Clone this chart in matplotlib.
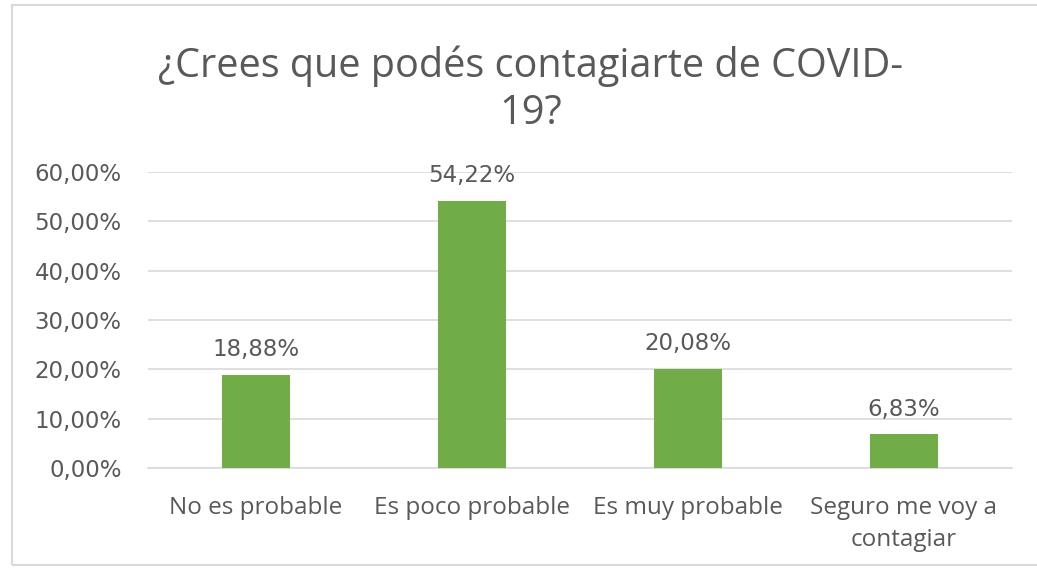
import matplotlib
matplotlib.use("Agg")
import matplotlib.pyplot as plt
from matplotlib.patches import Rectangle

categories = ["No es probable", "Es poco probable", "Es muy probable", "Seguro me voy a\ncontagiar"]
values = [18.88, 54.22, 20.08, 6.83]
labels = ["18,88%", "54,22%", "20,08%", "6,83%"]
yticks = [0, 10, 20, 30, 40, 50, 60]
yticklabels = ["0,00%", "10,00%", "20,00%", "30,00%", "40,00%", "50,00%", "60,00%"]
title = "¿Crees que podés contagiarte de COVID-\n19?"

plt.rcParams['font.family'] = ['Open Sans', 'DejaVu Sans']
gray = "#595959"

fig = plt.figure(figsize=(10.37, 5.70), dpi=100)
fig.patch.set_facecolor("white")
fig.patches.append(Rectangle((12/1037, 5/570), 1.0, 560/570, transform=fig.transFigure,
                             fill=False, edgecolor="#D9D9D9", linewidth=1.5))

ax = fig.add_axes([148/1037, 1-468/570, 864/1037, (468-172)/570])
x = list(range(len(categories)))
ax.bar(x, values, width=0.315, color="#70AD47", zorder=3)
ax.set_xlim(-0.5, len(categories)-0.5)
ax.set_ylim(0, 60)
ax.set_yticks(yticks)
ax.set_yticklabels(yticklabels, fontsize=16.5, color=gray, family=['DejaVu Sans'])
ax.set_xticks(x)
ax.set_xticklabels(categories, fontsize=17.5, color=gray, linespacing=1.45)
ax.tick_params(axis='both', length=0)
ax.tick_params(axis='y', pad=19)
ax.tick_params(axis='x', pad=20)
ax.grid(axis='y', color="#D9D9D9", linewidth=1.2, zorder=0)
for s in ["top", "right", "left"]:
    ax.spines[s].set_visible(False)
ax.spines["bottom"].set_color("#D9D9D9")
ax.spines["bottom"].set_linewidth(1.2)

for xi, v, lab in zip(x, values, labels):
    ax.annotate(lab, (xi, v), xytext=(0, 13.5), textcoords="offset points",
                ha="center", va="baseline", fontsize=16.5, color=gray,
                family=['DejaVu Sans'])

fig.text(531/1037, 1-90/570, title, ha="center", va="center", fontsize=28.5,
         color=gray, linespacing=1.22)

fig.savefig("out.png", dpi=100, facecolor="white")
